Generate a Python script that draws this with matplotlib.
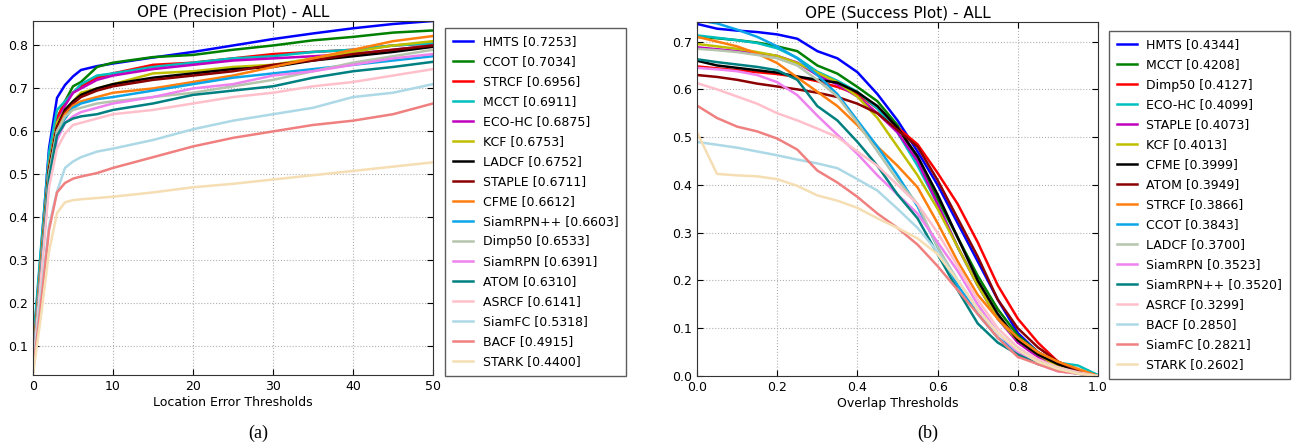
import matplotlib
matplotlib.use('Agg')
import matplotlib.pyplot as plt

# ---- precision plot data (location error thresholds) ----
prec_x = [0, 1, 2, 3, 4, 5, 6, 8, 10, 15, 20, 25, 30, 35, 40, 45, 50]
prec_names = ['HMTS [0.7253]', 'CCOT [0.7034]', 'STRCF [0.6956]', 'MCCT [0.6911]',
              'ECO-HC [0.6875]', 'KCF [0.6753]', 'LADCF [0.6752]', 'STAPLE [0.6711]',
              'CFME [0.6612]', 'SiamRPN++ [0.6603]', 'Dimp50 [0.6533]', 'SiamRPN [0.6391]',
              'ATOM [0.6310]', 'ASRCF [0.6141]', 'SiamFC [0.5318]', 'BACF [0.4915]',
              'STARK [0.4400]']
prec_vals = [
    [0.09, 0.32, 0.56, 0.678, 0.708, 0.728, 0.743, 0.752, 0.758, 0.772, 0.785, 0.800, 0.815, 0.828, 0.840, 0.850, 0.857],
    [0.08, 0.30, 0.53, 0.630, 0.670, 0.705, 0.715, 0.750, 0.760, 0.773, 0.778, 0.790, 0.800, 0.812, 0.820, 0.830, 0.835],
    [0.07, 0.30, 0.53, 0.630, 0.670, 0.690, 0.705, 0.725, 0.735, 0.755, 0.760, 0.770, 0.780, 0.785, 0.790, 0.800, 0.805],
    [0.10, 0.33, 0.55, 0.650, 0.670, 0.690, 0.710, 0.730, 0.735, 0.750, 0.760, 0.770, 0.775, 0.785, 0.790, 0.800, 0.805],
    [0.07, 0.30, 0.52, 0.620, 0.660, 0.690, 0.700, 0.720, 0.730, 0.745, 0.755, 0.765, 0.770, 0.775, 0.780, 0.790, 0.800],
    [0.07, 0.30, 0.52, 0.620, 0.650, 0.670, 0.690, 0.700, 0.710, 0.735, 0.740, 0.750, 0.755, 0.770, 0.785, 0.800, 0.810],
    [0.06, 0.28, 0.51, 0.610, 0.650, 0.670, 0.685, 0.700, 0.710, 0.725, 0.735, 0.745, 0.750, 0.765, 0.775, 0.785, 0.797],
    [0.06, 0.28, 0.51, 0.610, 0.645, 0.665, 0.680, 0.695, 0.705, 0.720, 0.730, 0.740, 0.755, 0.765, 0.780, 0.790, 0.800],
    [0.06, 0.28, 0.50, 0.600, 0.640, 0.660, 0.670, 0.680, 0.690, 0.700, 0.715, 0.730, 0.750, 0.770, 0.790, 0.810, 0.822],
    [0.05, 0.27, 0.50, 0.600, 0.630, 0.655, 0.665, 0.675, 0.680, 0.695, 0.710, 0.725, 0.735, 0.745, 0.755, 0.765, 0.775],
    [0.06, 0.28, 0.50, 0.600, 0.635, 0.650, 0.655, 0.665, 0.670, 0.680, 0.690, 0.705, 0.720, 0.740, 0.760, 0.775, 0.790],
    [0.05, 0.27, 0.48, 0.580, 0.620, 0.635, 0.645, 0.655, 0.665, 0.680, 0.700, 0.710, 0.730, 0.740, 0.755, 0.770, 0.780],
    [0.05, 0.27, 0.49, 0.590, 0.620, 0.630, 0.635, 0.640, 0.650, 0.665, 0.685, 0.695, 0.705, 0.725, 0.740, 0.750, 0.762],
    [0.05, 0.26, 0.47, 0.560, 0.595, 0.615, 0.620, 0.630, 0.640, 0.650, 0.665, 0.680, 0.690, 0.705, 0.715, 0.730, 0.745],
    [0.05, 0.22, 0.38, 0.460, 0.515, 0.530, 0.540, 0.553, 0.560, 0.580, 0.605, 0.625, 0.640, 0.655, 0.680, 0.690, 0.710],
    [0.04, 0.20, 0.37, 0.458, 0.480, 0.490, 0.495, 0.503, 0.515, 0.540, 0.565, 0.585, 0.600, 0.615, 0.625, 0.640, 0.665],
    [0.035, 0.17, 0.32, 0.410, 0.435, 0.440, 0.442, 0.445, 0.448, 0.458, 0.470, 0.478, 0.488, 0.498, 0.508, 0.518, 0.528],
]
prec_colors = ['blue', 'green', 'red', 'c', 'm', 'y', 'black', 'darkred', '#ff7f0e',
               '#0ba5e8', '#b5c4ac', 'violet', 'teal', 'pink', 'lightblue',
               'lightcoral', 'wheat']

# ---- success plot data (overlap thresholds) ----
succ_x = [0.0, 0.05, 0.1, 0.15, 0.2, 0.25, 0.3, 0.35, 0.4, 0.45, 0.5,
          0.55, 0.6, 0.65, 0.7, 0.75, 0.8, 0.85, 0.9, 0.95, 1.0]
succ_names = ['HMTS [0.4344]', 'MCCT [0.4208]', 'Dimp50 [0.4127]', 'ECO-HC [0.4099]',
              'STAPLE [0.4073]', 'KCF [0.4013]', 'CFME [0.3999]', 'ATOM [0.3949]',
              'STRCF [0.3866]', 'CCOT [0.3843]', 'LADCF [0.3700]', 'SiamRPN [0.3523]',
              'SiamRPN++ [0.3520]', 'ASRCF [0.3299]', 'BACF [0.2850]', 'SiamFC [0.2821]',
              'STARK [0.2602]']
succ_vals = [
    [0.737, 0.727, 0.723, 0.720, 0.715, 0.706, 0.680, 0.665, 0.636, 0.590, 0.535, 0.470, 0.400, 0.320, 0.240, 0.160, 0.090, 0.050, 0.025, 0.012, 0.0],
    [0.710, 0.707, 0.703, 0.698, 0.690, 0.680, 0.650, 0.633, 0.605, 0.575, 0.525, 0.450, 0.370, 0.290, 0.210, 0.140, 0.085, 0.050, 0.025, 0.010, 0.0],
    [0.648, 0.644, 0.640, 0.636, 0.632, 0.626, 0.617, 0.605, 0.590, 0.560, 0.520, 0.485, 0.425, 0.360, 0.280, 0.190, 0.120, 0.070, 0.030, 0.010, 0.0],
    [0.713, 0.708, 0.703, 0.697, 0.686, 0.666, 0.637, 0.618, 0.595, 0.560, 0.510, 0.440, 0.360, 0.270, 0.190, 0.120, 0.080, 0.050, 0.028, 0.022, 0.002],
    [0.688, 0.684, 0.680, 0.676, 0.670, 0.656, 0.630, 0.610, 0.585, 0.550, 0.510, 0.450, 0.360, 0.270, 0.190, 0.120, 0.070, 0.040, 0.020, 0.010, 0.0],
    [0.695, 0.690, 0.685, 0.678, 0.670, 0.655, 0.635, 0.615, 0.585, 0.540, 0.480, 0.420, 0.350, 0.270, 0.190, 0.120, 0.075, 0.045, 0.020, 0.010, 0.0],
    [0.660, 0.650, 0.645, 0.640, 0.635, 0.627, 0.620, 0.614, 0.594, 0.565, 0.520, 0.460, 0.380, 0.290, 0.200, 0.130, 0.075, 0.045, 0.025, 0.010, 0.0],
    [0.630, 0.626, 0.620, 0.612, 0.606, 0.600, 0.593, 0.584, 0.570, 0.550, 0.515, 0.480, 0.410, 0.330, 0.250, 0.160, 0.100, 0.060, 0.030, 0.012, 0.0],
    [0.710, 0.700, 0.690, 0.675, 0.655, 0.625, 0.595, 0.565, 0.525, 0.480, 0.440, 0.395, 0.320, 0.240, 0.170, 0.120, 0.080, 0.050, 0.030, 0.015, 0.0],
    [0.745, 0.738, 0.725, 0.710, 0.690, 0.665, 0.630, 0.590, 0.535, 0.480, 0.420, 0.355, 0.270, 0.190, 0.130, 0.080, 0.050, 0.030, 0.015, 0.005, 0.0],
    [0.685, 0.682, 0.678, 0.672, 0.665, 0.650, 0.620, 0.585, 0.530, 0.470, 0.410, 0.360, 0.270, 0.200, 0.140, 0.090, 0.055, 0.030, 0.015, 0.005, 0.0],
    [0.645, 0.642, 0.638, 0.630, 0.615, 0.588, 0.545, 0.505, 0.465, 0.420, 0.380, 0.340, 0.280, 0.220, 0.150, 0.090, 0.050, 0.025, 0.010, 0.005, 0.0],
    [0.663, 0.657, 0.652, 0.647, 0.640, 0.620, 0.565, 0.535, 0.490, 0.440, 0.380, 0.330, 0.255, 0.180, 0.110, 0.070, 0.045, 0.025, 0.015, 0.005, 0.0],
    [0.613, 0.600, 0.585, 0.570, 0.550, 0.535, 0.518, 0.500, 0.470, 0.440, 0.400, 0.360, 0.300, 0.230, 0.160, 0.100, 0.060, 0.035, 0.018, 0.008, 0.0],
    [0.490, 0.484, 0.478, 0.470, 0.462, 0.453, 0.445, 0.435, 0.412, 0.388, 0.350, 0.310, 0.260, 0.200, 0.140, 0.090, 0.055, 0.030, 0.015, 0.005, 0.0],
    [0.566, 0.540, 0.522, 0.512, 0.497, 0.474, 0.430, 0.405, 0.375, 0.340, 0.310, 0.275, 0.230, 0.180, 0.130, 0.080, 0.040, 0.025, 0.010, 0.005, 0.0],
    [0.510, 0.423, 0.420, 0.418, 0.412, 0.398, 0.378, 0.367, 0.352, 0.330, 0.310, 0.288, 0.255, 0.200, 0.140, 0.090, 0.055, 0.030, 0.015, 0.005, 0.0],
]
succ_colors = prec_colors

W, H = 1296, 447
fig = plt.figure(figsize=(W / 100, H / 100), dpi=100)


def style_axes(ax):
    ax.grid(True, linestyle=':', color='#b0b0b0', linewidth=0.8)
    ax.tick_params(direction='in', labelsize=9, length=4, top=True, right=True)
    for s in ax.spines.values():
        s.set_color('#333333')


leg_kw = dict(loc='upper left', bbox_transform=fig.transFigure, borderaxespad=0,
              fontsize=9, handlelength=1.6, labelspacing=0.56, fancybox=False,
              edgecolor='#333333', borderpad=0.6)

# precision plot
ax1 = fig.add_axes([33 / W, 1 - 375 / H, 400 / W, 354 / H])
for name, vals, col in zip(prec_names, prec_vals, prec_colors):
    ax1.plot(prec_x, vals, color=col, linewidth=1.8, label=name)
ax1.set_xlim(0, 50)
ax1.set_ylim(0.033, 0.857)
ax1.set_yticks([0.1, 0.2, 0.3, 0.4, 0.5, 0.6, 0.7, 0.8])
ax1.set_title('OPE (Precision Plot) - ALL', fontsize=11, pad=3)
ax1.set_xlabel('Location Error Thresholds', fontsize=9, labelpad=2)
style_axes(ax1)
ax1.legend(bbox_to_anchor=(445 / W, 1 - 28 / H), **leg_kw)

# success plot
ax2 = fig.add_axes([697 / W, 1 - 376 / H, 401 / W, 354 / H])
for name, vals, col in zip(succ_names, succ_vals, succ_colors):
    ax2.plot(succ_x, vals, color=col, linewidth=1.8, label=name)
ax2.set_xlim(0, 1)
ax2.set_ylim(0, 0.741)
ax2.set_title('OPE (Success Plot) - ALL', fontsize=11, pad=3)
ax2.set_xlabel('Overlap Thresholds', fontsize=9, labelpad=2)
style_axes(ax2)
ax2.legend(bbox_to_anchor=(1109 / W, 1 - 31 / H), **leg_kw)

fig.text(258 / W, 1 - 433 / H, '(a)', ha='center', va='center',
         family='Liberation Serif', fontsize=13)
fig.text(928 / W, 1 - 433 / H, '(b)', ha='center', va='center',
         family='Liberation Serif', fontsize=13)

fig.savefig('out.png', dpi=100)
